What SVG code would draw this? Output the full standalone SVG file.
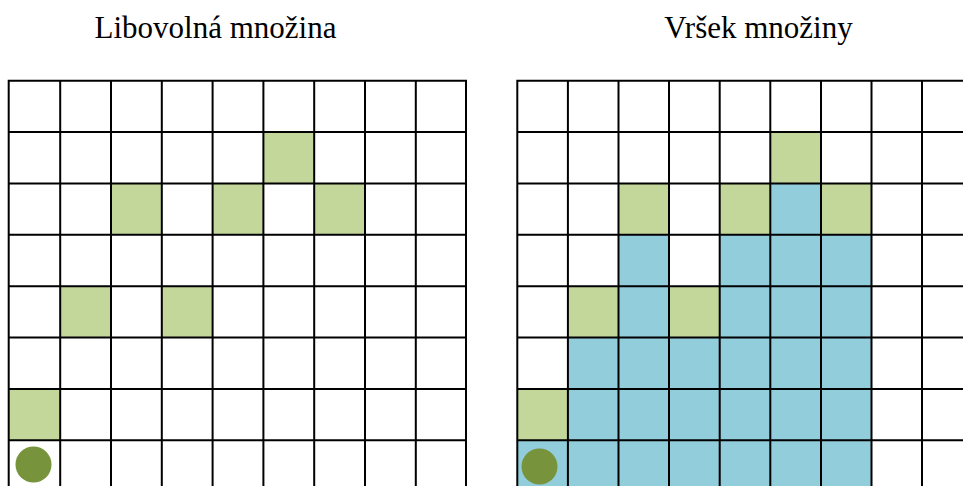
<svg xmlns="http://www.w3.org/2000/svg" width="963" height="486" viewBox="0 0 963 486">
<defs>
<style>
.t{font-family:"Liberation Serif","Times New Roman",serif;font-size:31px;fill:#000;text-anchor:middle}
.g{fill:#C4D79B}
.b{fill:#92CDDC}
.dot{fill:#77933C}
.ln{stroke:#000;stroke-width:2;fill:none}
</style>
</defs>
<rect width="963" height="486" fill="#fff"/>
<text class="t" x="215.5" y="38">Libovolná množina</text>
<text class="t" x="758.5" y="38">Vršek množiny</text>

<g id="left-grid">
<g id="left-cells">
<rect class="g" x="263.7" y="132.1" width="50.8" height="51.3"/>
<rect class="g" x="111" y="183.4" width="50.8" height="51.4"/>
<rect class="g" x="212.6" y="183.4" width="50.8" height="51.4"/>
<rect class="g" x="314.2" y="183.4" width="50.8" height="51.4"/>
<rect class="g" x="60.2" y="286.2" width="50.8" height="51.4"/>
<rect class="g" x="161.8" y="286.2" width="50.8" height="51.4"/>
<rect class="g" x="8.7" y="388.9" width="51.5" height="51.4"/>
<circle class="dot" cx="33.5" cy="464.5" r="18"/>
</g>
<path class="ln" d="M8.7 80.7H466M8.7 132.1H466M8.7 183.4H466M8.7 234.8H466M8.7 286.2H466M8.7 337.6H466M8.7 388.9H466M8.7 440.3H466
M8.7 79.7V490M60.2 79.7V490M111 79.7V490M161.8 79.7V490M212.6 79.7V490M263.4 79.7V490M314.2 79.7V490M365 79.7V490M415.8 79.7V490M466 79.7V490"/>
</g>

<g id="right-grid">
<g id="right-cells">
<rect class="g" x="770.3" y="132.1" width="50.7" height="51.3"/>
<rect class="g" x="618.5" y="183.4" width="50.5" height="51.4"/>
<rect class="g" x="719.7" y="183.4" width="50.6" height="51.4"/>
<rect class="b" x="770.3" y="183.4" width="50.7" height="51.4"/>
<rect class="g" x="821" y="183.4" width="50.5" height="51.4"/>
<rect class="b" x="618.5" y="234.8" width="50.5" height="51.4"/>
<rect class="b" x="719.7" y="234.8" width="151.8" height="51.4"/>
<rect class="g" x="567.9" y="286.2" width="50.6" height="51.4"/>
<rect class="b" x="618.5" y="286.2" width="50.5" height="51.4"/>
<rect class="g" x="669" y="286.2" width="50.7" height="51.4"/>
<rect class="b" x="719.7" y="286.2" width="151.8" height="51.4"/>
<rect class="b" x="567.9" y="337.6" width="303.6" height="51.3"/>
<rect class="g" x="517.3" y="388.9" width="50.6" height="51.4"/>
<rect class="b" x="567.9" y="388.9" width="303.6" height="51.4"/>
<rect class="b" x="517.3" y="440.3" width="354.2" height="46"/>
<circle class="dot" cx="539.5" cy="466.5" r="18"/>
</g>
<path class="ln" d="M517.3 80.7H970M517.3 132.1H970M517.3 183.4H970M517.3 234.8H970M517.3 286.2H970M517.3 337.6H970M517.3 388.9H970M517.3 440.3H970
M517.3 79.7V490M567.9 79.7V490M618.5 79.7V490M669 79.7V490M719.7 79.7V490M770.3 79.7V490M821 79.7V490M871.5 79.7V490M922 79.7V490"/>
</g>
</svg>
